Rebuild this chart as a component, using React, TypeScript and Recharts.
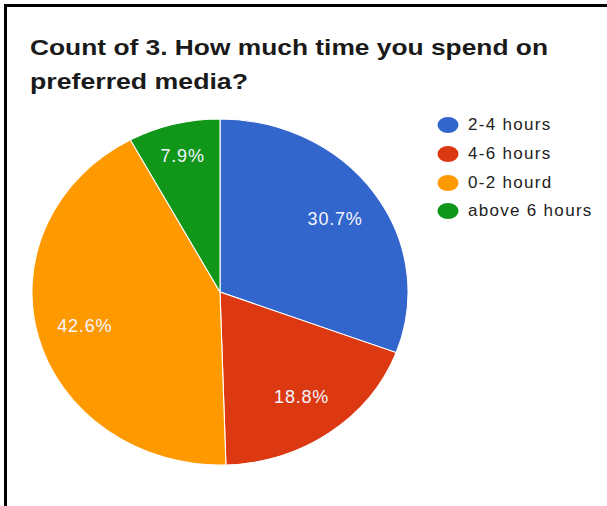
import React from "react";
import { PieChart, Pie, Cell, Legend } from "recharts";

const categories = ["2-4 hours", "4-6 hours", "0-2 hourd", "above 6 hours"];
const shares = [30.7, 18.8, 42.6, 7.9];
const colors = ["#3366cc", "#dc3912", "#ff9900", "#109618"];

const data = categories.map((name, i) => ({ name, value: shares[i] }));

const RAD = Math.PI / 180;
const SX = 1.087;
const CX = 220;
const CY = 292;
const R = 173;

const renderLabel = (props: any) => {
  const { cx, cy, midAngle, outerRadius, percent, value } = props;
  const f = percent < 0.1 ? 0.81 : 0.745;
  const r = outerRadius * f;
  const x = cx + r * Math.cos(-midAngle * RAD) * SX;
  const y = cy + r * Math.sin(-midAngle * RAD);
  return (
    <text
      x={x}
      y={y}
      fill="#f4f4ff"
      textAnchor="middle"
      dominantBaseline="central"
      fontFamily="'Liberation Sans', Arial, sans-serif"
      fontSize={18}
      letterSpacing={0.8}
    >
      {`${Number(value).toFixed(1)}%`}
    </text>
  );
};

const LegendContent = () => (
  <div style={{ fontFamily: "'Liberation Sans', Arial, sans-serif" }}>
    {categories.map((c, i) => (
      <div
        key={c}
        style={{ display: "flex", alignItems: "center", height: 28.7 }}
      >
        <svg width={22} height={18} style={{ marginRight: 9 }}>
          <ellipse cx={11} cy={9} rx={10.5} ry={8} fill={colors[i]} />
        </svg>
        <span style={{ fontSize: 17, color: "#222", letterSpacing: 1.3, whiteSpace: "nowrap" }}>{c}</span>
      </div>
    ))}
  </div>
);

export default function App() {
  return (
    <div
      style={{
        position: "fixed",
        left: 0,
        top: 0,
        width: 607,
        height: 506,
        background: "#fff",
        overflow: "hidden",
      }}
    >
      <style>{`.recharts-pie-sector path { transform: scaleX(${SX}); transform-origin: ${CX}px ${CY}px; }`}</style>
      <div
        style={{
          position: "absolute",
          left: 4,
          top: 4,
          width: 603,
          height: 502,
          borderTop: "3px solid #000",
          borderLeft: "3px solid #000",
          boxSizing: "border-box",
        }}
      />
      <div style={{ position: "absolute", left: 0, top: 0 }}>
        <PieChart width={607} height={506} margin={{ top: 0, right: 0, bottom: 0, left: 0 }}>
          <Pie
            data={data}
            dataKey="value"
            nameKey="name"
            cx={CX}
            cy={CY}
            outerRadius={R}
            startAngle={90}
            endAngle={-270}
            stroke="#fff"
            strokeWidth={1}
            label={renderLabel}
            labelLine={false}
            isAnimationActive={false}
          >
            {data.map((d, i) => (
              <Cell key={d.name} fill={colors[i]} />
            ))}
          </Pie>
          <Legend
            layout="vertical"
            verticalAlign="top"
            align="right"
            content={<LegendContent />}
            wrapperStyle={{ position: "absolute", left: 437, top: 111, width: 170 }}
          />
        </PieChart>
      </div>
      <svg
        width={607}
        height={506}
        style={{ position: "absolute", left: 0, top: 0, pointerEvents: "none" }}
      >
        <rect x={4} y={4} width={603} height={3} fill="#000" />
        <rect x={4} y={4} width={3} height={502} fill="#000" />
        <text
          x={30}
          y={55}
          fontFamily="'Liberation Sans', Arial, sans-serif"
          fontWeight="bold"
          fontSize={22}
          fill="#1a1a1a"
          textLength={518}
          lengthAdjust="spacingAndGlyphs"
        >
          Count of 3. How much time you spend on
        </text>
        <text
          x={30}
          y={89}
          fontFamily="'Liberation Sans', Arial, sans-serif"
          fontWeight="bold"
          fontSize={22}
          fill="#1a1a1a"
          textLength={218}
          lengthAdjust="spacingAndGlyphs"
        >
          preferred media?
        </text>
      </svg>
    </div>
  );
}
